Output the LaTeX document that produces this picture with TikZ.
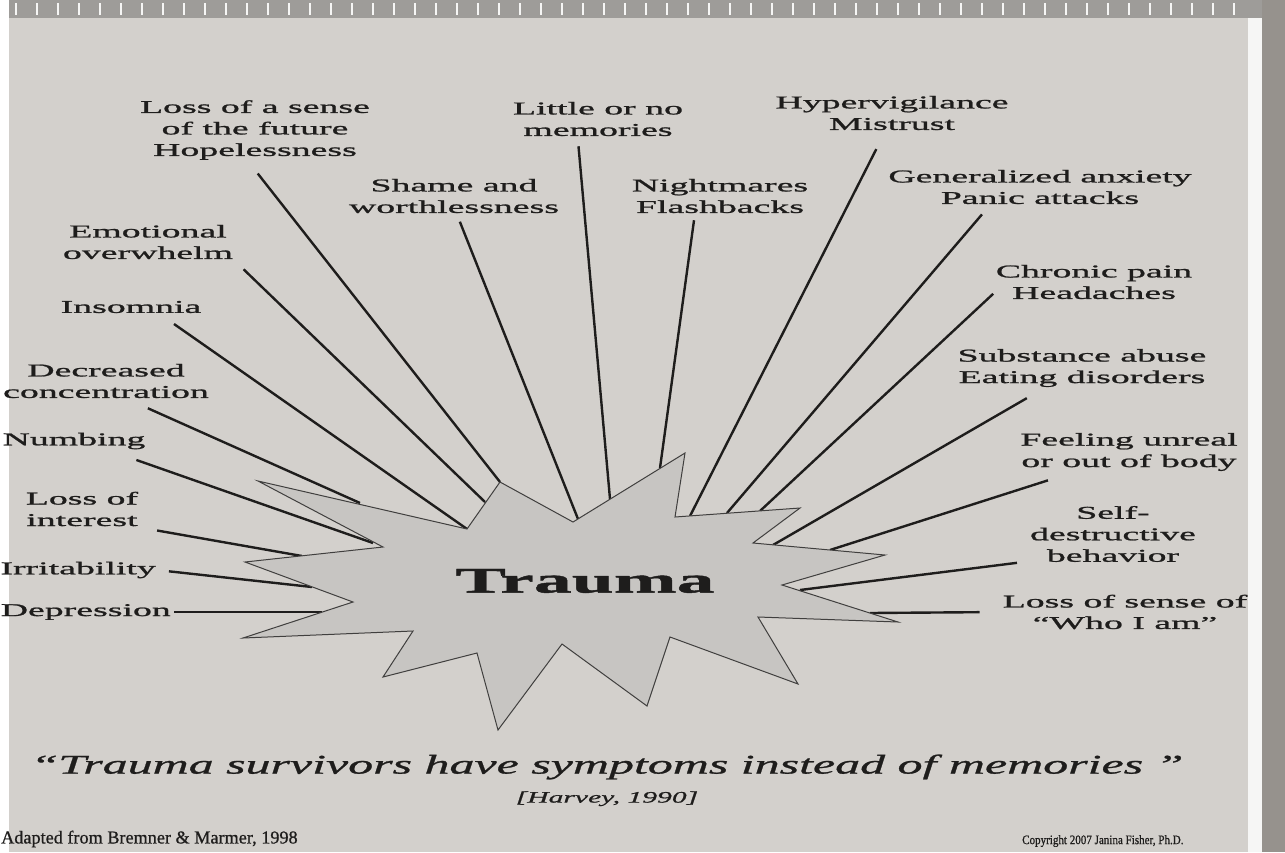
\documentclass[tikz,border=0pt]{standalone}
\usepackage{fontspec}
\setmainfont{Liberation Serif}[FakeBold=0.8]
\newfontfamily\widefont{Liberation Serif}[FakeStretch=2.1, FakeBold=1.2]
\newfontfamily\quotefont{Liberation Serif}[FakeStretch=1.85, FakeBold=1.0]
\newfontfamily\narrowfont{Liberation Serif}[FakeStretch=0.85, FakeBold=0.8]
\usetikzlibrary{positioning}
\definecolor{paper}{RGB}{211,208,204}
\definecolor{burstgray}{RGB}{199,197,194}
\definecolor{ink}{RGB}{30,29,28}
\definecolor{pageedge}{RGB}{150,146,141}

\begin{document}
\begin{tikzpicture}[x=1pt, y=-1pt,
  lbl/.style={font=\widefont\fontsize{18}{21.5}\selectfont, align=center,
              inner sep=1pt, text=ink},
  spoke/.style={draw=ink, line width=2.4pt},
  burst/.style={fill=burstgray, draw=ink!85, line width=1pt, line join=miter},
  ringmark/.style={draw=white!80!paper, line width=1.5pt}]
\useasboundingbox (0,0) rectangle (1285,852);
% paper, binding and page edges
\fill[paper] (0,0) rectangle (1285,852);
\fill[white] (0,0) rectangle (9,852);
\fill[pageedge] (1262,0) rectangle (1285,852);
\fill[white!80!paper] (1248,0) rectangle (1262,852);
\fill[paper!75!black] (9,0) rectangle (1262,18);
\foreach \i in {0,...,58}
  \draw[ringmark] (16+\i*21,3) -- ++(0,12);

% symptom labels
\node[lbl] (lossfut) at (255,130) {Loss of a sense\\of the future\\Hopelessness};
\node[lbl] (shame) at (454,196) {Shame and\\worthlessness};
\node[lbl] (littlemem) at (598,119) {Little or no\\memories};
\node[lbl] (nightmare) at (720,196) {Nightmares\\Flashbacks};
\node[lbl] (hyper) at (892,113) {Hypervigilance\\Mistrust};
\node[lbl] (genanx) at (1040,187) {Generalized anxiety\\Panic attacks};
\node[lbl] (chronic) at (1094,282) {Chronic pain\\Headaches};
\node[lbl] (substance) at (1082,368) {Substance abuse\\Eating disorders};
\node[lbl] (unreal) at (1129,452) {Feeling unreal\\or out of body};
\node[lbl] (selfdes) at (1113,534) {Self-\\destructive\\behavior};
\node[lbl] (whoami) at (1125,612) {Loss of sense of\\“Who I am”};
\node[lbl] (emotional) at (148,242) {Emotional\\overwhelm};
\node[lbl] (insomnia) at (131,307) {Insomnia};
\node[lbl] (decreased) at (106,381) {Decreased\\concentration};
\node[lbl] (numbing) at (74,441) {Numbing};
\node[lbl] (lossint) at (82,509) {Loss of\\interest};
\node[lbl, anchor=east] (irrit) at (157,570) {Irritability};
\node[lbl, anchor=east] (depress) at (172,612) {Depression};

% where the spokes meet the burst
\coordinate (tip-lossfut) at (500,482);
\coordinate (tip-emotional) at (485,502);
\coordinate (tip-insomnia) at (467,529);
\coordinate (tip-decreased) at (360,503);
\coordinate (tip-numbing) at (373,543);
\coordinate (tip-lossint) at (302,556);
\coordinate (tip-irrit) at (312,587);
\coordinate (tip-depress) at (322,612);
\coordinate (tip-shame) at (578,519);
\coordinate (tip-littlemem) at (610,499);
\coordinate (tip-nightmare) at (660,468);
\coordinate (tip-hyper) at (690,516);
\coordinate (tip-genanx) at (727,513);
\coordinate (tip-chronic) at (760,511);
\coordinate (tip-substance) at (773,545);
\coordinate (tip-unreal) at (830,550);
\coordinate (tip-selfdes) at (800,590);
\coordinate (tip-whoami) at (870,613);

\draw[spoke, shorten <=16pt] (lossfut.257) -- (tip-lossfut);
\draw[spoke, shorten <=13pt] (emotional.south east) -- (tip-emotional);
\draw[spoke, shorten <=17pt] (insomnia.346) -- (tip-insomnia);
\draw[spoke, shorten <=22pt] (decreased.320) -- (tip-decreased);
\draw[spoke, shorten <=29pt] (numbing.345) -- (tip-numbing);
\draw[spoke, shorten <=18pt] (lossint.south east) -- (tip-lossint);
\draw[spoke, shorten <=12pt] (irrit.east) -- (tip-irrit);
\draw[spoke, shorten <=2pt] (depress.east) -- (tip-depress);
\draw[spoke, shorten <=8pt] (shame.279) -- (tip-shame);
\draw[spoke, shorten <=9pt] (littlemem.222) -- (tip-littlemem);
\draw[spoke, shorten <=6pt] (nightmare.216) -- (tip-nightmare);
\draw[spoke, shorten <=20pt] (hyper.250) -- (tip-hyper);
\draw[spoke, shorten <=12pt] (genanx.200) -- (tip-genanx);
\draw[spoke, shorten <=2pt] (chronic.186) -- (tip-chronic);
\draw[spoke, shorten <=20pt] (substance.208) -- (tip-substance);
\draw[spoke, shorten <=27pt] (unreal.200) -- (tip-unreal);
\draw[spoke, shorten <=12pt] (selfdes.198) -- (tip-selfdes);
\draw[spoke, shorten <=22pt] (whoami.west) -- (tip-whoami);

% the burst
\draw[burst] (245,562) -- (383,547) -- (258,481) -- (467,529) -- (500,482)
  -- (573,522) -- (685,453) -- (675,517) -- (800,508) -- (753,543)
  -- (885,555) -- (782,585) -- (898,622) -- (758,617) -- (798,684)
  -- (670,637) -- (647,706) -- (562,644) -- (498,730) -- (477,653)
  -- (383,677) -- (413,631) -- (243,638) -- (353,602) -- cycle;
\node[font=\widefont\bfseries\fontsize{36}{40}\selectfont, text=ink] (trauma) at (585,581) {Trauma};

% quotation and credits
\node[font=\quotefont\itshape\fontsize{27}{30}\selectfont, text=ink] (quote) at (607,767)
  {“Trauma survivors have symptoms instead of memories ”};
\node[font=\quotefont\itshape\fontsize{16}{19}\selectfont, text=ink, below=5pt of quote] (cite) {[Harvey, 1990]};
\node[font=\fontsize{18.2}{21}\selectfont, text=ink, anchor=west, inner sep=0pt] (adapted) at (1,839)
  {Adapted from Bremner \& Marmer, 1998};
\node[font=\narrowfont\fontsize{13}{15}\selectfont, text=ink, anchor=west, inner sep=0pt] (copyright) at (1022,841)
  {Copyright 2007 Janina Fisher, Ph.D.};
\end{tikzpicture}
\end{document}
